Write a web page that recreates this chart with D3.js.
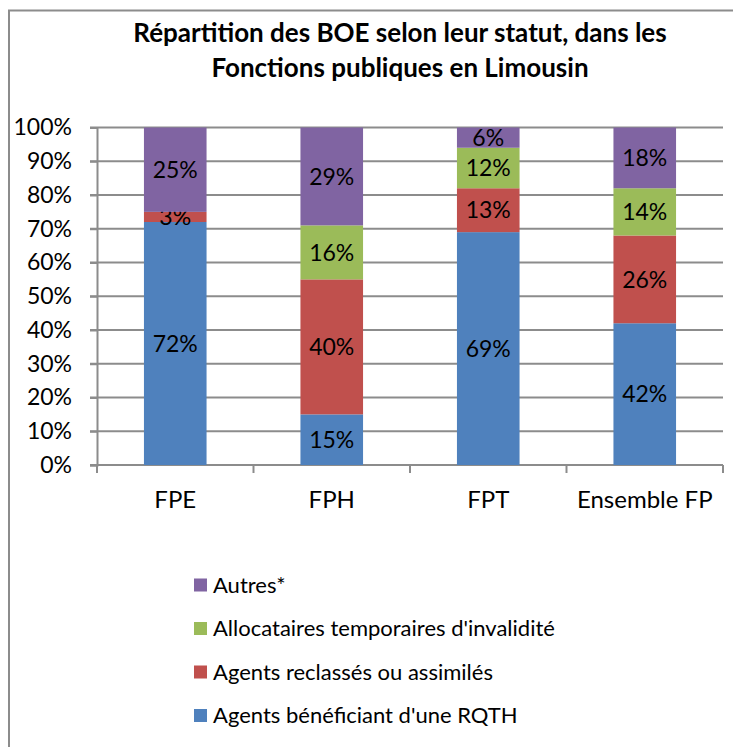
<!DOCTYPE html>
<html>
<head>
<meta charset="utf-8">
<script src="https://cdn.jsdelivr.net/npm/d3@7"></script>
<style>
  body { margin: 0; background: #fff; }
  svg { display: block; font-family: Lato, "Open Sans", sans-serif; }
</style>
</head>
<body>
<svg id="chart" width="733" height="747"></svg>
<script>
// data (percent)
var categories = ["FPE", "FPH", "FPT", "Ensemble FP"];
var seriesNames = ["Agents bénéficiant d'une RQTH", "Agents reclassés ou assimilés",
    "Allocataires temporaires d'invalidité", "Autres*"];
var rqth = [72, 15, 69, 42];
var reclasses = [3, 40, 13, 26];
var allocataires = [0, 16, 12, 14];
var autres = [25, 29, 6, 18];
var colors = ["#4f81bd", "#c0504d", "#9bbb59", "#8064a2"];
var titleLines = ["Répartition des BOE selon leur statut, dans les", "Fonctions publiques en Limousin"];

var svg = d3.select("#chart");
var gridColor = "#8c8c8c";

// outer chart border
svg.append("rect")
    .attr("x", 9).attr("y", 10.5)
    .attr("width", 800).attr("height", 800)
    .attr("fill", "none")
    .attr("stroke", gridColor)
    .attr("stroke-width", 2);

// title
svg.append("g").selectAll("text")
    .data(titleLines)
    .enter().append("text")
    .attr("x", 400)
    .attr("y", (d, i) => 42 + i * 35)
    .attr("text-anchor", "middle")
    .style("font-weight", "bold")
    .style("font-size", "26px")
    .text(d => d);

var plotLeft = 97, plotRight = 723, plotTop = 127.5, plotBottom = 465;

var rows = categories.map((c, i) => ({
    cat: c, s0: rqth[i], s1: reclasses[i], s2: allocataires[i], s3: autres[i]
}));
var keys = ["s0", "s1", "s2", "s3"];
var stacked = d3.stack().keys(keys)(rows);

var x = d3.scaleBand().domain(categories).range([plotLeft, plotRight])
    .paddingInner(0.6).paddingOuter(0.3);
var xCat = d3.scaleBand().domain(categories).range([plotLeft, plotRight]).padding(0);
var y = d3.scaleLinear().domain([0, 100]).range([plotBottom, plotTop]);

// gridlines
svg.append("g").selectAll("line")
    .data(y.ticks(10))
    .enter().append("line")
    .attr("x1", plotLeft - 7).attr("x2", plotRight)
    .attr("y1", d => y(d)).attr("y2", d => y(d))
    .attr("stroke", gridColor)
    .attr("stroke-width", 2);

// y axis
var yAxis = svg.append("g")
    .attr("transform", "translate(" + plotLeft + ",0)")
    .call(d3.axisLeft(y).ticks(10).tickSize(7).tickPadding(18).tickFormat(d => d + "%"));
yAxis.select(".domain").attr("stroke", gridColor).attr("stroke-width", 2);
yAxis.selectAll(".tick line").attr("stroke", gridColor).attr("stroke-width", 2);
yAxis.selectAll("text").style("font-size", "23px").style("fill", "#000")
    .style("font-family", "Lato, sans-serif");

// x axis boundary ticks
var bounds = categories.map(c => xCat(c)).concat([plotRight]);
svg.append("g").selectAll("line")
    .data(bounds)
    .enter().append("line")
    .attr("x1", d => d).attr("x2", d => d)
    .attr("y1", plotBottom).attr("y2", plotBottom + 8)
    .attr("stroke", gridColor)
    .attr("stroke-width", 2);

// x labels
svg.append("g").selectAll("text")
    .data(categories)
    .enter().append("text")
    .attr("x", d => xCat(d) + xCat.bandwidth() / 2)
    .attr("y", 508)
    .attr("text-anchor", "middle")
    .style("font-size", "24px")
    .text(d => d);

// bars
var layers = svg.append("g").selectAll("g")
    .data(stacked)
    .enter().append("g")
    .attr("fill", (d, i) => colors[i]);

layers.selectAll("rect")
    .data(d => d)
    .enter().append("rect")
    .attr("x", d => x(d.data.cat))
    .attr("width", x.bandwidth())
    .attr("y", d => y(d[1]))
    .attr("height", d => y(d[0]) - y(d[1]));

// data labels
layers.selectAll("text")
    .data(d => d.filter(v => v[1] - v[0] > 0))
    .enter().append("text")
    .attr("x", d => x(d.data.cat) + x.bandwidth() / 2)
    .attr("y", d => (y(d[0]) + y(d[1])) / 2)
    .attr("dy", "0.36em")
    .attr("text-anchor", "middle")
    .attr("fill", "#000")
    .style("font-size", "23px")
    .text(d => Math.round(d[1] - d[0]) + "%");

// legend (reverse order)
var legendRows = seriesNames.map((n, i) => ({ name: n, color: colors[i] })).reverse();
var legend = svg.append("g").selectAll("g")
    .data(legendRows)
    .enter().append("g")
    .attr("transform", (d, i) => "translate(194," + (585 + i * 43.5) + ")");

legend.append("rect")
    .attr("x", 0).attr("y", -6.5)
    .attr("width", 13).attr("height", 13)
    .attr("fill", d => d.color);

legend.append("text")
    .attr("x", 19)
    .attr("dy", "0.36em")
    .style("font-size", "22px")
    .text(d => d.name);
</script>
</body>
</html>
